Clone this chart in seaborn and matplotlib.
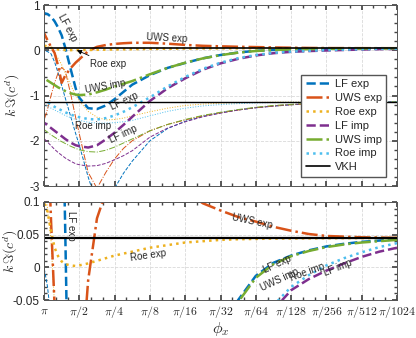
import numpy as np
import matplotlib
matplotlib.use("Agg")
import matplotlib.pyplot as plt
from matplotlib.ticker import FixedLocator, MultipleLocator, FormatStrFormatter, NullFormatter, FixedFormatter
import seaborn as sns

# grid steps: phi_x = pi / 2**step
steps = [0, 0.1, 0.2, 0.3, 0.4, 0.5, 0.6, 0.75, 0.9, 1, 1.25, 1.5, 1.75, 2, 2.25, 2.5,
         3, 3.5, 4, 4.5, 5, 5.5, 6, 6.5, 7, 7.5, 8, 8.5, 9, 9.5, 10]
tick_labels = [r"$\pi$", r"$\pi/2$", r"$\pi/4$", r"$\pi/8$", r"$\pi/16$", r"$\pi/32$",
               r"$\pi/64$", r"$\pi/128$", r"$\pi/256$", r"$\pi/512$", r"$\pi/1024$"]

# thick curves (converge to VKH)
lf_exp = [0.82, 0.80, 0.74, 0.64, 0.5, 0.33, 0.06, -0.4, -0.85, -1.05, -1.28, -1.3, -1.22, -1.08, -0.92, -0.76,
          -0.55, -0.39, -0.28, -0.178, -0.105, -0.05, -0.013, 0.007, 0.018, 0.026, 0.032, 0.036, 0.039, 0.041, 0.043]
uws_exp = [0.38, 0.22, 0.07, -0.06, -0.35, -0.72, -0.56, -0.4, -0.27, -0.2, -0.02, 0.075, 0.115, 0.14, 0.155, 0.165,
           0.165, 0.145, 0.118, 0.098, 0.087, 0.077, 0.07, 0.062, 0.056, 0.051, 0.048, 0.047, 0.046, 0.0455, 0.045]
roe_exp = [0.1, 0.085, 0.055, 0.03, 0.017, 0.009, 0.005, 0.003, 0.002, 0.003, 0.006, 0.01, 0.014, 0.018, 0.021, 0.024,
           0.03, 0.034, 0.038, 0.04, 0.042, 0.043, 0.0435, 0.044, 0.0442, 0.0444, 0.0446, 0.0447, 0.0448, 0.0449, 0.045]
lf_imp = [-1.6, -1.66, -1.72, -1.78, -1.84, -1.9, -1.96, -2.04, -2.1, -2.12, -2.15, -2.1, -1.97, -1.82, -1.65, -1.47,
          -1.12, -0.84, -0.62, -0.43, -0.29, -0.19, -0.115, -0.065, -0.035, -0.018, -0.005, 0.006, 0.016, 0.024, 0.03]
uws_imp = [-0.62, -0.67, -0.72, -0.77, -0.82, -0.86, -0.9, -0.95, -0.98, -0.99, -0.98, -0.93, -0.87, -0.8, -0.74, -0.68,
           -0.53, -0.39, -0.275, -0.18, -0.108, -0.053, -0.016, 0.005, 0.017, 0.025, 0.031, 0.035, 0.038, 0.04, 0.042]
roe_imp = [-1.1, -1.15, -1.2, -1.25, -1.29, -1.33, -1.37, -1.42, -1.46, -1.48, -1.52, -1.53, -1.5, -1.44, -1.36, -1.26,
           -1.04, -0.8, -0.59, -0.41, -0.275, -0.175, -0.105, -0.058, -0.03, -0.012, 0.003, 0.014, 0.023, 0.031, 0.037]

# thin curves (converge to second VKH level)
lf_exp_thin = [0.0, -0.03, -0.08, -0.26, -0.5, -0.78, -1.05, -1.45, -1.85, -2.1, -2.8, -3.4, -3.5, -3.05, -2.72, -2.45,
               -2.0, -1.73, -1.57, -1.46, -1.38, -1.32, -1.27, -1.235, -1.205, -1.185, -1.17, -1.158, -1.15, -1.144, -1.14]
uws_exp_thin = [-1.55, -1.3, -1.0, -0.72, -0.5, -0.38, -0.45, -0.95, -1.5, -1.85, -2.7, -3.05, -2.7, -2.4, -2.17, -2.0,
                -1.78, -1.64, -1.54, -1.45, -1.38, -1.32, -1.27, -1.235, -1.205, -1.185, -1.17, -1.158, -1.15, -1.144, -1.14]
roe_exp_thin = [0.13, 0.09, 0.04, -0.06, -0.18, -0.32, -0.5, -0.76, -1.0, -1.12, -1.35, -1.48, -1.54, -1.53, -1.5, -1.45,
                -1.36, -1.28, -1.22, -1.19, -1.17, -1.16, -1.152, -1.148, -1.145, -1.143, -1.142, -1.141, -1.14, -1.139, -1.138]
lf_imp_thin = [-1.95, -2.03, -2.11, -2.19, -2.26, -2.32, -2.38, -2.45, -2.51, -2.53, -2.56, -2.55, -2.5, -2.42, -2.33, -2.22,
               -1.92, -1.72, -1.58, -1.47, -1.39, -1.32, -1.27, -1.23, -1.2, -1.18, -1.165, -1.155, -1.148, -1.143, -1.14]
uws_imp_thin = [-1.75, -1.81, -1.87, -1.92, -1.97, -2.02, -2.06, -2.12, -2.17, -2.2, -2.24, -2.25, -2.21, -2.14, -2.05, -1.96,
                -1.78, -1.64, -1.53, -1.44, -1.37, -1.31, -1.26, -1.22, -1.195, -1.175, -1.162, -1.153, -1.147, -1.142, -1.14]
roe_imp_thin = [-1.2, -1.24, -1.28, -1.32, -1.36, -1.4, -1.44, -1.49, -1.53, -1.55, -1.59, -1.61, -1.61, -1.6, -1.58, -1.55,
                -1.45, -1.35, -1.28, -1.23, -1.2, -1.18, -1.165, -1.157, -1.151, -1.147, -1.144, -1.142, -1.141, -1.14, -1.139]

vkh = 0.045
vkh_thin = -1.137

names = ["LF exp", "UWS exp", "Roe exp", "LF imp", "UWS imp", "Roe imp"]
thick = [lf_exp, uws_exp, roe_exp, lf_imp, uws_imp, roe_imp]
thin = [lf_exp_thin, uws_exp_thin, roe_exp_thin, lf_imp_thin, uws_imp_thin, roe_imp_thin]
colors = ["#0072BD", "#D95319", "#EDB120", "#7E2F8E", "#77AC30", "#4DBEEE"]
styles = ["--", "-.", ":", "--", "-.", ":"]

phi = np.pi / 2.0 ** np.array(steps)

sns.set_theme(style="ticks")
plt.rcParams["font.family"] = ["Liberation Sans", "DejaVu Sans"]
plt.rcParams["mathtext.fontset"] = "cm"
plt.rcParams["axes.unicode_minus"] = False

fig = plt.figure(figsize=(4.16, 3.38), dpi=100)
ax1 = fig.add_axes([0.1058, 0.4497, 0.8486, 0.5355])
ax2 = fig.add_axes([0.1058, 0.1124, 0.8486, 0.29])


def draw(ax, label_x):
    for vals, c, ls in zip(thin, colors, styles):
        sns.lineplot(x=phi, y=vals, ax=ax, color=c, linestyle=ls, lw=0.7)
    for vals, c, ls, n in zip(thick, colors, styles, names):
        sns.lineplot(x=phi, y=vals, ax=ax, color=c, linestyle=ls, lw=1.8, label=n)
    ax.set_xscale("log", base=2)
    ax.set_xlim(np.pi, np.pi / 1024)
    major = [np.pi / 2 ** k for k in range(11)]
    minor = [np.pi / 2 ** (k + f) for k in range(10) for f in (1 / 3, 2 / 3)]
    ax.xaxis.set_major_locator(FixedLocator(major))
    ax.xaxis.set_minor_locator(FixedLocator(minor))
    ax.xaxis.set_minor_formatter(NullFormatter())
    ax.grid(True, which="major", ls="--", color="#d9d9d9", lw=0.6)
    ax.tick_params(which="both", direction="in", top=True, right=True,
                   labelsize=8.5, color="#444444", pad=3)
    ax.tick_params(which="major", length=3.5)
    ax.tick_params(which="minor", length=2)
    for s in ax.spines.values():
        s.set_color("#555555")
        s.set_linewidth(0.7)
    ax.set_ylabel(r"$k\,\Im(c^d)$", fontsize=10)
    ax.yaxis.set_label_coords(label_x, 0.5)
    if ax.get_legend() is not None:
        ax.get_legend().remove()


# top panel
draw(ax1, -0.062)
vkh_line = ax1.axhline(vkh, color="black", lw=1.2, label="VKH")
ax1.axhline(vkh_thin, color="black", lw=1.0)
ax1.set_ylim(-3, 1)
ax1.yaxis.set_major_locator(MultipleLocator(1))
ax1.yaxis.set_minor_locator(MultipleLocator(0.2))
ax1.xaxis.set_major_formatter(NullFormatter())
ax1.set_xlabel("")

handles = [l for l in ax1.get_lines() if l.get_label() in names] + [vkh_line]
ax1.legend(handles=handles, loc="lower right", bbox_to_anchor=(0.985, 0.02),
           fontsize=8, frameon=True, fancybox=False, edgecolor="#555555",
           framealpha=1, handlelength=2.2, labelspacing=0.35, borderpad=0.4,
           handletextpad=0.4)

txt = dict(fontsize=7, ha="center", va="center")
ax1.text(np.pi / 2 ** 0.65, 0.49, "LF exp", rotation=-62, **txt)
ax1.text(np.pi / 2 ** 3.48, 0.27, "UWS exp", rotation=-3, **txt)
ax1.annotate("Roe exp", xy=(np.pi / 2 ** 0.93, 0.0), xytext=(np.pi / 2 ** 1.81, -0.3),
             fontsize=7, ha="center", va="center",
             arrowprops=dict(arrowstyle="-|>", color="black", lw=0.6, mutation_scale=7,
                             shrinkA=0, shrinkB=0))
ax1.text(np.pi / 2 ** 1.73, -0.81, "UWS imp", rotation=10, **txt)
ax1.text(np.pi / 2 ** 2.27, -1.12, "LF exp", rotation=25, **txt)
ax1.text(np.pi / 2 ** 1.39, -1.67, "Roe imp", rotation=0, **txt)
ax1.text(np.pi / 2 ** 2.24, -1.85, "LF imp", rotation=25, **txt)

# bottom panel (zoom)
draw(ax2, -0.068)
ax2.axhline(vkh, color="black", lw=1.6)
ax2.set_ylim(-0.05, 0.1)
ax2.yaxis.set_major_locator(MultipleLocator(0.05))
ax2.yaxis.set_minor_locator(MultipleLocator(0.01))
ax2.yaxis.set_major_formatter(FormatStrFormatter("%g"))
ax2.xaxis.set_major_formatter(FixedFormatter(tick_labels))
ax2.set_xlabel(r"$\phi_x$", fontsize=11.5, labelpad=0)

ax2.text(np.pi / 2 ** 0.76, 0.064, "LF exp", rotation=-90, **txt)
ax2.text(np.pi / 2 ** 2.95, 0.0187, "Roe exp", rotation=8, **txt)
ax2.text(np.pi / 2 ** 5.9, 0.0706, "UWS exp", rotation=-12, **txt)
ax2.text(np.pi / 2 ** 6.6, 0.005, "LF exp", rotation=25, **txt)
ax2.text(np.pi / 2 ** 6.66, -0.0195, "UWS imp", rotation=25, **txt)
ax2.text(np.pi / 2 ** 7.45, -0.0072, "Roe imp", rotation=20, **txt)
ax2.text(np.pi / 2 ** 8.33, -0.001, "LF imp", rotation=22, **txt)

fig.savefig("out.png", dpi=100)
